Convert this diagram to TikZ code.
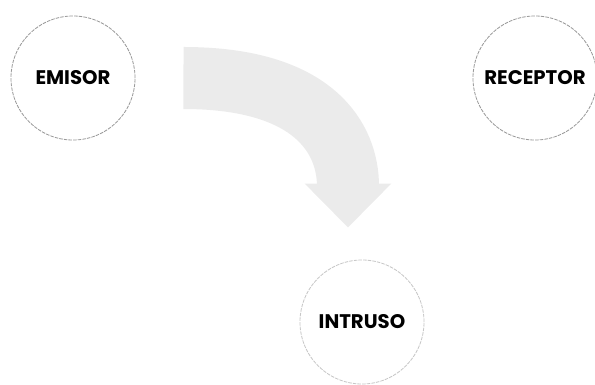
\documentclass[tikz,border=0pt]{standalone}
\usepackage{fontspec}
\setmainfont{Poppins}
\usetikzlibrary{arrows.meta}
\definecolor{RoleRing}{HTML}{9A9A9A}
\definecolor{RoleArrow}{HTML}{EBEBEB}

\begin{document}
\begin{tikzpicture}[x=0.025cm,y=0.025cm,
  role/.style={circle,draw=RoleRing,line width=0.6pt,dash pattern=on 2.5pt off 0.8pt,
    minimum size=3.1cm,inner sep=0pt,font=\bfseries\fontsize{14}{16}\selectfont},
  flow/.style={RoleArrow,line width=1.55cm,-{Triangle[length=1.1cm,width=2.1cm]}}]
\path[use as bounding box] (0,0) rectangle (595,384);
\node[role] (emisor) at (73,306) {EMISOR};
\node[role] (receptor) at (535,306) {RECEPTOR};
\node[role,draw=RoleRing!55] (intruso) at (362,62) {INTRUSO};
\draw[flow] ([xshift=1.2cm]emisor.east) .. controls +(3.3cm,0) and +(0,2.2cm) .. ([xshift=-0.35cm,yshift=0.8cm]intruso.north);
\end{tikzpicture}
\end{document}
